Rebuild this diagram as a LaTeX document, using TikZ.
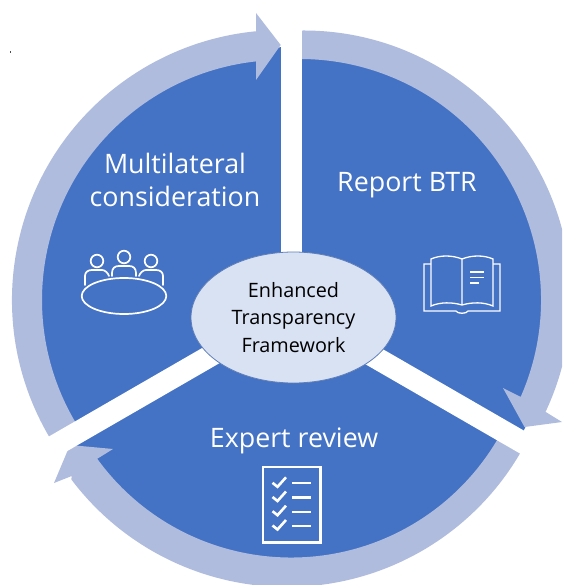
\documentclass[tikz,border=0pt]{standalone}
\usepackage{fontspec}
\setmainfont{Open Sans}
\usetikzlibrary{calc,shapes.geometric}
\definecolor{mainblue}{HTML}{4472C4}
\definecolor{bandblue}{HTML}{AFBCDE}
\definecolor{hubfill}{HTML}{D9E2F3}
\definecolor{hubedge}{HTML}{5F7FB8}
\tikzset{
  band/.style={fill=bandblue},
  gapline/.style={draw=white,line width=21.8pt},
  icon/.style={draw=white,line width=1.7pt,line cap=round,line join=round},
  iconthin/.style={draw=white,line width=1.3pt,line cap=butt,line join=miter},
  title/.style={text=white,font=\fontsize{26.8}{33}\selectfont,align=center},
  hublabel/.style={text=black,font=\fontsize{19.8}{27.5}\selectfont,align=center}
}
\begin{document}
\begin{tikzpicture}[x=1pt,y=-1pt]
\useasboundingbox (0,0) rectangle (562,585);
\clip (0,0) rectangle (562,585);
\coordinate (C) at (291.5,309);
\coordinate (LC) at (282,300);
\coordinate (RO) at (303.5,298);
\coordinate (RI) at (300,300);
\coordinate (BO) at (287,317);
\coordinate (BI) at (291,318);
% speck
\fill[black!70] (10,51) rectangle (11,53);
% disc
\fill[mainblue] (C) circle[radius=262];
% bands with arrowheads
\fill[band] ($(LC)+(-211:270)$) arc[start angle=-211,end angle=-95.5,radius=270]
  -- (256,13) -- (280.7,45) -- (256,80) -- ($(LC)+(-96.2:240)$)
  arc[start angle=-96.2,end angle=-211,radius=240] -- cycle;
\fill[band] ($(RO)+(-92:267.5)$) arc[start angle=-92,end angle=25.2,radius=267.5]
  -- (562,422) -- (524.5,427) -- (503,388) -- ($(RI)+(23.7:241)$)
  arc[start angle=23.7,end angle=-92,radius=241] -- cycle;
\fill[band] ($(BO)+(28:270)$) arc[start angle=28,end angle=143,radius=270]
  -- (71.7,476) -- (54,483) -- (70,445) -- (113,449) -- ($(BI)+(144:239.5)$)
  arc[start angle=144,end angle=28,radius=239.5] -- cycle;
% gaps
\coordinate (gt) at ($(C)+(-90:320)$);
\coordinate (gr) at ($(C)+(30:340)$);
\coordinate (gl) at ($(C)+(150:340)$);
\draw[gapline] (C) -- (gt);
\draw[gapline] (C) -- (gr);
\draw[gapline] (C) -- (gl);
% hub
\node[hublabel,draw=hubedge,line width=0.8pt,fill=hubfill,ellipse,inner sep=0pt,minimum width=205pt,minimum height=131pt] (hub) at (293.5,317.5) {Enhanced\\Transparency\\Framework};
% titles
\node[title] (multi) at (175,180) {Multilateral\\consideration};
\node[title] (report) at (407,185) {Report BTR};
\node[title] (expert) at (294,440.5) {Expert review};
% people icon
\draw[icon] (124,296) ellipse[x radius=42.3,y radius=18];
\draw[icon] (97,261) circle[radius=6.3];
\draw[icon] (124,257) circle[radius=6.3];
\draw[icon] (151,261) circle[radius=6.3];
\draw[icon] (85,285) -- (85,276) .. controls (85,272) and (88,270) .. (92,270) -- (102,270) .. controls (105,270) and (108,273) .. (109,276);
\draw[icon] (112,276) -- (112,273) .. controls (112,268) and (115,266) .. (119,266) -- (129,266) .. controls (133,266) and (136,268) .. (136,273) -- (136,276);
\draw[icon] (139,276) .. controls (140,273) and (143,270) .. (146,270) -- (156,270) .. controls (160,270) and (163,272) .. (163,276) -- (163,285);
% book icon
\draw[iconthin] (431,264) -- (424,264) -- (424,311) -- (456,311) .. controls (457,314) and (467,314) .. (468,311) -- (500,311) -- (500,264) -- (493,264);
\draw[iconthin] (462,259) .. controls (452,255) and (440,255) .. (431,259) -- (431,306) .. controls (440,302) and (452,302) .. (462,305) .. controls (472,302) and (484,302) .. (493,306) -- (493,259) .. controls (484,255) and (472,255) .. (462,259) -- (462,305);
\draw[iconthin] (470,272) -- (484,272);
\draw[iconthin] (470,277.5) -- (484,277.5);
\draw[iconthin] (470,283) -- (479,283);
% checklist icon
\draw[draw=white,line width=2.2pt] (263,467) rectangle (320.5,542.5);
\foreach \yy in {483.3,497.5,511.7,526}{
  \draw[icon,line width=2.6pt,line cap=butt,line join=miter] (272.5,\yy-0.5) -- (277.5,\yy+3.5) -- (286,\yy-6);
  \draw[draw=white,line width=2.2pt] (292,\yy) -- (311,\yy);
}
\end{tikzpicture}
\end{document}
